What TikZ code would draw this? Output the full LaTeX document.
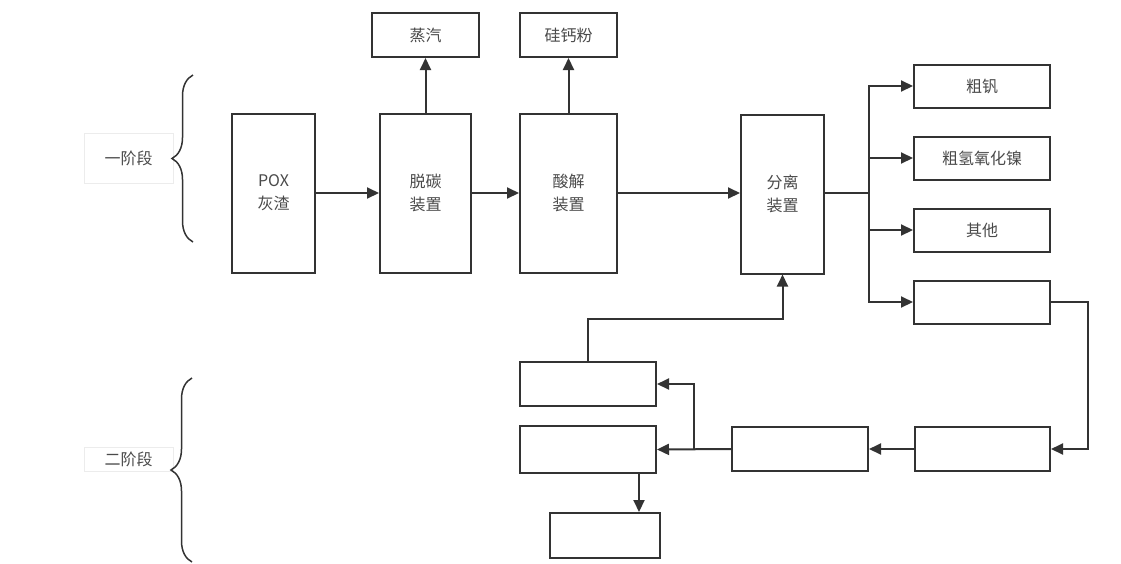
\documentclass[tikz,border=0pt]{standalone}
\usepackage{fontspec}
\usepackage{xcolor}
\usepackage{tikz}
\usetikzlibrary{arrows.meta,decorations.pathreplacing}
\newfontfamily\cjk{Noto Sans CJK SC}
\definecolor{ink}{HTML}{333333}
\definecolor{txt}{HTML}{4A4A4A}
\definecolor{faintline}{HTML}{ECECEC}
\tikzset{
  proc/.style={draw=ink, line width=2pt, fill=white, inner sep=0pt,
    minimum width=83pt, minimum height=159pt, align=center,
    text=txt, font=\cjk\fontsize{16}{23}\selectfont},
  prod/.style={proc, minimum width=136pt, minimum height=43pt},
  stagelab/.style={draw=faintline, line width=0.6pt, inner sep=0pt,
    minimum width=89pt, minimum height=50pt,
    text=txt, font=\cjk\fontsize{16}{18}\selectfont},
  flow/.style={draw=ink, line width=2pt, -{Triangle[length=12pt,width=11pt]}},
  plain/.style={draw=ink, line width=2pt},
  curly/.style={draw=ink, line width=1.5pt, decorate,
    decoration={brace, amplitude=21pt}},
}
\begin{document}
\begin{tikzpicture}[x=1pt,y=-1pt]
  \useasboundingbox (0,0) rectangle (1121,563);
  % stage one
  \node[stagelab] (s1) at (128.5,158) {一阶段};
  \draw[curly] (193,242) -- (193,75);
  \node[proc] (pox) at (273.5,193) {POX\\灰渣};
  \node[proc, minimum width=91pt] (tuotan) at (425.5,193) {脱碳\\装置};
  \node[proc, minimum width=97pt] (suanjie) at (568.5,193) {酸解\\装置};
  \node[proc] (fenli) at (782.5,194) {分离\\装置};
  \node[prod, minimum width=107pt, minimum height=44pt] (steam) at (425.5,35) {蒸汽};
  \node[prod, minimum width=97pt, minimum height=44pt] (sica) at (568.5,35) {硅钙粉};
  \draw[flow] (pox.east) -- (tuotan.west);
  \draw[flow] (tuotan.east) -- (suanjie.west);
  \draw[flow] (suanjie.east) -- (suanjie.east -| fenli.west);
  \draw[flow] (tuotan.north) -- (steam.south);
  \draw[flow] (suanjie.north) -- (sica.south);
  % products
  \node[prod] (cufan) at (982,86) {粗钒};
  \node[prod] (cuni) at (982,158) {粗氢氧化镍};
  \node[prod] (other) at (982,230) {其他};
  \node[prod] (out4) at (982,302) {};
  \coordinate (split) at (869,193);
  \draw[plain] (suanjie.east -| fenli.east) -- (split);
  \draw[flow] (split) |- (cufan.west);
  \draw[flow] (split) |- (cuni.west);
  \draw[flow] (split) |- (other.west);
  \draw[flow] (split) |- (out4.west);
  % stage two
  \node[stagelab, minimum height=24pt] (s2) at (128.5,459) {二阶段};
  \draw[curly] (192,562) -- (192,378);
  \node[prod, minimum height=44pt] (boxa) at (588,384) {};
  \node[prod, minimum height=47pt] (boxb) at (588,449.5) {};
  \node[prod, minimum height=44pt] (boxc) at (800,449) {};
  \node[prod, minimum height=44pt, minimum width=135pt] (boxd) at (982.5,449) {};
  \node[prod, minimum width=110pt, minimum height=45pt] (boxe) at (605,535.5) {};
  \coordinate (dturn) at (1088,449);
  \coordinate (fork) at (694,449);
  \draw[flow] (out4.east) -| (dturn) -- (boxd.east);
  \draw[flow] (boxd.west) -- (boxc.east);
  \draw[flow] (boxc.west) -- (boxb.east);
  \draw[flow] (fork) |- (boxa.east);
  \draw[flow] (boxa.north) -- ++(0,-42) -| (fenli.south);
  \draw[flow] ([xshift=51pt]boxb.south) -- ([xshift=34pt]boxe.north);
\end{tikzpicture}
\end{document}
